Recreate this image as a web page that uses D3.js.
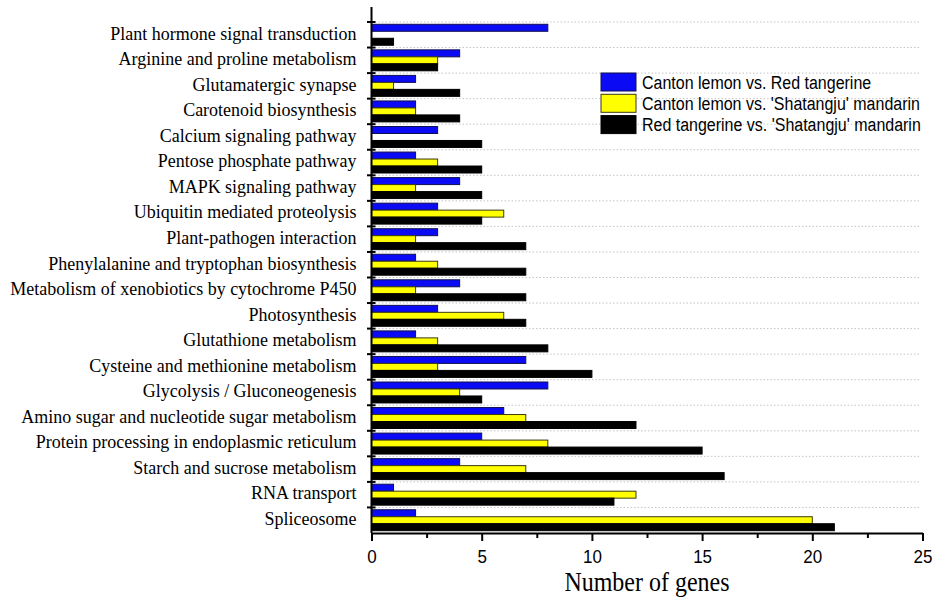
<!DOCTYPE html>
<html>
<head>
<meta charset="utf-8">
<script src="https://cdn.jsdelivr.net/npm/d3@7"></script>
<style>
  html, body { margin: 0; padding: 0; background: #fff; }
  svg { display: block; }
</style>
</head>
<body>
<svg id="chart" width="942" height="600"></svg>
<script>
// KEGG pathways, listed top to bottom
const categories = [
  "Plant hormone signal transduction",
  "Arginine and proline metabolism",
  "Glutamatergic synapse",
  "Carotenoid biosynthesis",
  "Calcium signaling pathway",
  "Pentose phosphate pathway",
  "MAPK signaling pathway",
  "Ubiquitin mediated proteolysis",
  "Plant-pathogen interaction",
  "Phenylalanine and tryptophan biosynthesis",
  "Metabolism of xenobiotics by cytochrome P450",
  "Photosynthesis",
  "Glutathione metabolism",
  "Cysteine and methionine metabolism",
  "Glycolysis / Gluconeogenesis",
  "Amino sugar and nucleotide sugar metabolism",
  "Protein processing in endoplasmic reticulum",
  "Starch and sucrose metabolism",
  "RNA transport",
  "Spliceosome"
];

const seriesNames = [
  "Canton lemon vs. Red tangerine",
  "Canton lemon vs. 'Shatangju' mandarin",
  "Red tangerine vs. 'Shatangju' mandarin"
];

// Number of genes per pathway for each comparison
const cantonVsRed       = [8, 4, 2, 2, 3, 2, 4, 3, 3, 2, 4, 3, 2, 7, 8, 6, 5, 4, 1, 2];
const cantonVsShatangju = [0, 3, 1, 2, 0, 3, 2, 6, 2, 3, 2, 6, 3, 3, 4, 7, 8, 7, 12, 20];
const redVsShatangju    = [1, 3, 4, 4, 5, 5, 5, 5, 7, 7, 7, 7, 8, 10, 5, 12, 15, 16, 11, 21];

const majorTicks = [0, 5, 10, 15, 20, 25];
const minorTicks = [2.5, 7.5, 12.5, 17.5, 22.5];
const axisTitle = "Number of genes";

const seriesValues = [cantonVsRed, cantonVsShatangju, redVsShatangju];
const colors = ["#0a0af5", "#ffff00", "#000000"];
const strokes = ["#101050", "#3a3a10", "#000000"];

const serif = "'Liberation Serif', 'Times New Roman', serif";
const sans = "'Liberation Sans', Arial, sans-serif";
const stretch = "scale(1,1.1)";

const svg = d3.select("#chart");

const x = d3.scaleLinear().domain([0, 25]).range([371.5, 922.5]);
const y = d3.scaleBand().domain(categories).range([22, 533]).padding(0);
const bw = y.bandwidth();
const ySub = d3.scaleBand().domain(seriesNames).range([bw * 0.09, bw * 0.91]).padding(0);

const x0 = x(0);
const yBottom = y.range()[1];

// dotted grid lines at category boundaries
svg.append("g")
  .selectAll("line")
  .data(categories)
  .join("line")
  .attr("x1", x0)
  .attr("x2", x(25) - 2)
  .attr("y1", d => y(d))
  .attr("y2", d => y(d))
  .attr("stroke", "#c4c4c4")
  .attr("stroke-width", 1)
  .attr("stroke-dasharray", "1.5,2");

// grouped bars
const rows = categories.map((c, i) => ({
  cat: c,
  values: seriesNames.map((s, k) => ({ series: s, k, v: seriesValues[k][i] }))
}));

svg.append("g")
  .selectAll("g")
  .data(rows)
  .join("g")
  .attr("transform", d => `translate(0,${y(d.cat)})`)
  .selectAll("rect")
  .data(d => d.values.filter(e => e.v > 0))
  .join("rect")
  .attr("x", x0)
  .attr("y", d => ySub(d.series))
  .attr("width", d => x(d.v) - x0)
  .attr("height", ySub.bandwidth())
  .attr("fill", d => colors[d.k])
  .attr("stroke", d => strokes[d.k])
  .attr("stroke-width", 1);

// x axis: major and minor ticks
const xAxisG = svg.append("g").attr("transform", `translate(0,${yBottom})`);
xAxisG.append("g")
  .call(d3.axisBottom(x).tickValues(minorTicks).tickSize(5).tickSizeOuter(0).tickFormat(""))
  .call(g => g.select(".domain").remove())
  .call(g => g.selectAll("line").attr("stroke", "#000").attr("stroke-width", 2));
xAxisG.append("g")
  .call(d3.axisBottom(x).tickValues(majorTicks).tickSize(8).tickSizeOuter(0).tickFormat(d3.format("d")))
  .call(g => g.select(".domain").attr("stroke", "#000").attr("stroke-width", 2))
  .call(g => g.selectAll("line").attr("stroke", "#000").attr("stroke-width", 2))
  .call(g => g.selectAll("text")
    .attr("y", 0).attr("dy", null)
    .attr("transform", `translate(0,30) ${stretch}`)
    .attr("fill", "#000")
    .style("font-family", sans)
    .style("font-size", "17px"));

// y axis: pathway labels at band centres
const yAxisG = svg.append("g").attr("transform", `translate(${x0},0)`);
yAxisG.call(d3.axisLeft(y).tickSize(0).tickPadding(0))
  .call(g => g.select(".domain").remove())
  .call(g => g.selectAll("text")
    .attr("x", 0).attr("dy", null)
    .attr("transform", `translate(-15,4.8) ${stretch}`)
    .attr("fill", "#000")
    .style("font-family", serif)
    .style("font-size", "18px"));

yAxisG.append("line")
  .attr("x1", 0).attr("x2", 0)
  .attr("y1", 7).attr("y2", yBottom)
  .attr("stroke", "#000").attr("stroke-width", 2);

// boundary tick marks crossing the y axis
yAxisG.append("g")
  .selectAll("line")
  .data(categories)
  .join("line")
  .attr("x1", -4.5).attr("x2", 4)
  .attr("y1", d => y(d)).attr("y2", d => y(d))
  .attr("stroke", "#000").attr("stroke-width", 2);

// axis title
svg.append("text")
  .attr("transform", `translate(${(x(0) + x(25)) / 2},591) ${stretch}`)
  .attr("text-anchor", "middle")
  .style("font-family", serif)
  .style("font-size", "24px")
  .attr("fill", "#000")
  .text(axisTitle);

// legend
const legend = svg.append("g").attr("transform", "translate(601,73)");
const item = legend.selectAll("g")
  .data(seriesNames)
  .join("g")
  .attr("transform", (d, i) => `translate(0,${i * 21.3})`);
item.append("rect")
  .attr("width", 35).attr("height", 18)
  .attr("fill", (d, i) => colors[i])
  .attr("stroke", (d, i) => strokes[i])
  .attr("stroke-width", 1);
item.append("text")
  .attr("transform", `translate(41,15.5) ${stretch}`)
  .style("font-family", sans)
  .style("font-size", "16px")
  .attr("fill", "#000")
  .text(d => d);
</script>
</body>
</html>
